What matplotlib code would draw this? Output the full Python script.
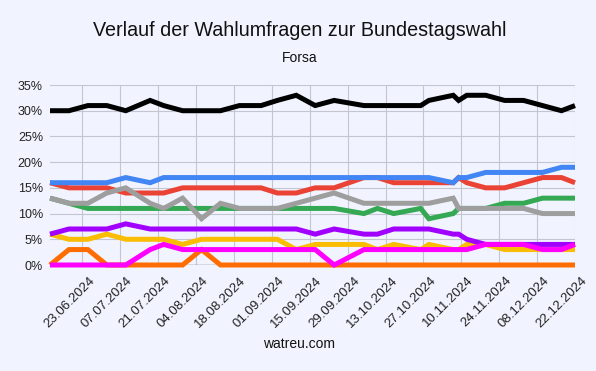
import matplotlib
matplotlib.use('Agg')
import matplotlib.pyplot as plt
import matplotlib.dates as mdates
import matplotlib.transforms as mtransforms
import pandas as pd

plt.rcParams['font.family'] = ['Liberation Sans', 'DejaVu Sans']

# Forsa poll dates
dates = ['2024-06-11', '2024-06-18', '2024-06-25', '2024-07-02', '2024-07-09',
         '2024-07-18', '2024-07-23', '2024-07-30', '2024-08-06', '2024-08-13',
         '2024-08-20', '2024-08-28', '2024-09-03', '2024-09-10', '2024-09-17',
         '2024-09-24', '2024-10-05', '2024-10-10', '2024-10-16', '2024-10-26',
         '2024-10-29', '2024-11-07', '2024-11-09', '2024-11-12', '2024-11-19',
         '2024-11-26', '2024-12-03', '2024-12-10', '2024-12-17', '2024-12-22']

black   = [30, 30, 31, 31, 30, 32, 31, 30, 30, 30, 31, 31, 32, 33, 31,
           32, 31, 31, 31, 31, 32, 33, 32, 33, 33, 32, 32, 31, 30, 31]
blue    = [16, 16, 16, 16, 17, 16, 17, 17, 17, 17, 17, 17, 17, 17, 17,
           17, 17, 17, 17, 17, 17, 16, 17, 17, 18, 18, 18, 18, 19, 19]
red     = [16, 15, 15, 15, 14, 14, 14, 15, 15, 15, 15, 15, 14, 14, 15,
           15, 17, 17, 16, 16, 16, 16, 17, 16, 15, 15, 16, 17, 17, 16]
gray    = [13, 12, 12, 14, 15, 12, 11, 13, 9, 12, 11, 11, 11, 12, 13,
           14, 12, 12, 12, 12, 12, 13, 11, 11, 11, 11, 11, 10, 10, 10]
green   = [13, 12, 11, 11, 11, 11, 11, 11, 11, 11, 11, 11, 11, 11, 11,
           11, 10, 11, 10, 11, 9, 10, 11, 11, 11, 12, 12, 13, 13, 13]
purple  = [6, 7, 7, 7, 8, 7, 7, 7, 7, 7, 7, 7, 7, 7, 6,
           7, 6, 6, 7, 7, 7, 6, 6, 5, 4, 4, 4, 4, 4, 4]
yellow  = [6, 5, 5, 6, 5, 5, 5, 4, 5, 5, 5, 5, 5, 3, 4,
           4, 4, 3, 4, 3, 4, 3, 3, 4, 4, 3, 3, 3, 3, 3]
magenta = [0, 0, 0, 0, 0, 3, 4, 3, 3, 3, 3, 3, 3, 3, 3,
           0, 3, 3, 3, 3, 3, 3, 3, 3, 4, 4, 4, 3, 3, 4]
orange  = [0, 3, 3, 0, 0, 0, 0, 0, 3, 0, 0, 0, 0, 0, 0,
           0, 0, 0, 0, 0, 0, 0, 0, 0, 0, 0, 0, 0, 0, 0]

series = [  # (values, colour, zorder)
    (orange, '#FF6D01', 3),
    (red, '#EA4335', 4),
    (blue, '#4285F4', 5),
    (green, '#34A853', 6),
    (gray, '#9E9E9E', 7),
    (yellow, '#FBBC04', 8),
    (purple, '#A100FF', 9),
    (magenta, '#FF00FF', 10),
    (black, '#000000', 11),
]

bg = '#F1F4FE'
x = pd.to_datetime(dates)

fig = plt.figure(figsize=(5.96, 3.71), dpi=100, facecolor=bg)
ax = fig.add_axes([50/596, 1-265/371, 525/596, 180/371])
ax.set_facecolor(bg)

for vals, col, z in series:
    ax.plot(x, vals, color=col, lw=3.6, zorder=z, clip_on=False,
            solid_joinstyle='miter', solid_capstyle='butt')

ax.axhline(0, color='#333333', lw=0.9, zorder=2)

ax.set_xlim(pd.Timestamp('2024-06-11'), pd.Timestamp('2024-12-22'))
ax.set_ylim(0, 35)

xticks = pd.date_range('2024-06-23', '2024-12-22', freq='14D')
ax.set_xticks(xticks)
ax.xaxis.set_major_formatter(mdates.DateFormatter('%d.%m.%Y'))
ax.set_yticks(range(0, 36, 5))
ax.set_yticklabels([f'{v}%' for v in range(0, 36, 5)])

ax.grid(True, color='#C3C6D0', lw=0.8, zorder=1)
for s in ax.spines.values():
    s.set_visible(False)
ax.tick_params(length=0, colors='#222222')
ax.tick_params(axis='y', labelsize=9, pad=5)
ax.tick_params(axis='x', labelsize=9.5, pad=7)

shift = mtransforms.ScaledTranslation(6/100, 0, fig.dpi_scale_trans)
for lab in ax.get_xticklabels():
    lab.set_rotation(45)
    lab.set_ha('right')
    lab.set_rotation_mode('anchor')
    lab.set_transform(lab.get_transform() + shift)

fig.text(300/596, 1-31/371, 'Verlauf der Wahlumfragen zur Bundestagswahl',
         ha='center', va='center', fontsize=14.2, color='#111111')
fig.text(300/596, 1-58/371, 'Forsa', ha='center', va='center',
         fontsize=10, color='#111111')
fig.text(299/596, 1-344/371, 'watreu.com', ha='center', va='center',
         fontsize=10, color='#111111')

fig.savefig('out.png', dpi=100, facecolor=bg)
